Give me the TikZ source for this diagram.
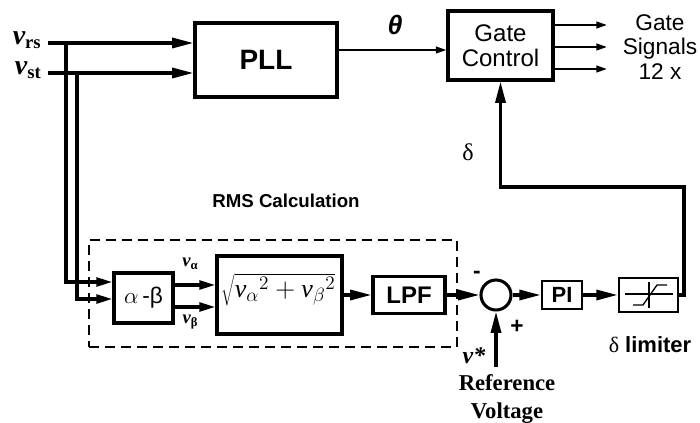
\documentclass[tikz,border=0pt]{standalone}
\usepackage{fontspec}
\setmainfont{Liberation Sans}
\newfontfamily\tms{Liberation Serif}
\newcommand\myv{\hbox{\tms\itshape v}}
\usetikzlibrary{arrows.meta,calc}
\begin{document}
\begin{tikzpicture}[x=0.75pt,y=-0.75pt,
 box/.style={draw,line width=2.3pt,inner sep=0pt,align=center},
 thk/.style={line width=2.4pt},
 bigarr/.style={thk,-{Triangle[length=16pt,width=7.5pt]}},
 medarr/.style={thk,-{Triangle[length=12pt,width=6.5pt]}},
 thinarr/.style={line width=1.5pt,-{Triangle[length=8pt,width=5pt]}},
 lbl/.style={inner sep=0pt},
 ]
\useasboundingbox (0,0) rectangle (700,423);

% blocks
\node[box,minimum width=106.5pt,minimum height=55.5pt,font=\fontsize{21}{24}\selectfont\bfseries] (pll) at (266,60) {PLL};
\node[box,minimum width=78.75pt,minimum height=51.75pt,font=\fontsize{18}{19}\selectfont] (gate) at (500.5,45.5) {Gate\\Control};
\node[draw,dashed,line width=1.5pt,dash pattern=on 7.5pt off 4.5pt,minimum width=276pt,minimum height=80.25pt,inner sep=0pt] (rms) at (273,293.5) {};
\node[box,minimum width=44.25pt,minimum height=37.5pt,font=\fontsize{17}{18}\selectfont] (ab) at (143.5,298) {$\alpha$\,-β};
\node[box,minimum width=93.75pt,minimum height=58.5pt] (sq) at (279.5,295) {};
\node[lbl,font=\fontsize{19.5}{20}\selectfont] (sqtxt) at (278.5,290) {$\sqrt{{\myv_{\alpha}}^{2}+{\myv_{\beta}}^{2}}$};
\node[box,minimum width=54pt,minimum height=27.75pt,font=\fontsize{18}{20}\selectfont\bfseries] (lpf) at (409,295) {LPF};
\node[circle,draw,line width=2.3pt,minimum size=22.5pt,inner sep=0pt] (sum) at (496,295) {};
\node[box,line width=2pt,minimum width=30pt,minimum height=21pt,font=\fontsize{16.5}{18}\selectfont\bfseries] (pi) at (562,295) {PI};
\node[box,line width=2pt,minimum width=44.25pt,minimum height=25.5pt] (lim) at (648.5,295) {};
% limiter symbol
\draw[line width=1pt] (625,294) -- (673,294);
\draw[line width=1pt] (649,282) -- (649,308);
\draw[line width=1pt] (633,305) -- (643,305) -- (657,285) -- (667,285);

% coordinates
\coordinate (rsin) at (48,43);
\coordinate (stin) at (48,73);
\coordinate (rsj) at (66,43);
\coordinate (stj) at (77,73);
\coordinate (abA) at (0,282);
\coordinate (abB) at (0,299);
\coordinate (va) at (0,285);
\coordinate (vb) at (0,307);
\coordinate (thy) at (0,50);
\coordinate (g1) at (607,25);
\coordinate (g2) at (607,47);
\coordinate (g3) at (607,69);
\coordinate (fbR) at (684,295);
\coordinate (fbT) at (684,187);
\coordinate (vref) at (496,367);

% connectors
\draw[bigarr] (rsin) -- (rsin -| pll.west);
\draw[bigarr] (stin) -- (stin -| pll.west);
\draw[medarr] (rsj) |- (ab.west |- abA);
\draw[medarr] (stj) |- (ab.west |- abB);
\draw[medarr] (ab.east |- va) -- (sq.west |- va);
\draw[medarr] (ab.east |- vb) -- (sq.west |- vb);
\draw[bigarr] (sq) -- (lpf);
\draw[bigarr] (lpf) -- (sum);
\draw[bigarr] (sum) -- (pi);
\draw[bigarr] (pi) -- (lim);
\draw[bigarr] (vref) -- (sum.south);
\draw[bigarr] (lim.east) -- (fbR) -- (fbT) -- (gate.south |- fbT) -- (gate.south);
\draw[thinarr] (pll.east |- thy) -- (gate.west |- thy);
\draw[thinarr] (gate.east |- g1) -- (g1);
\draw[thinarr] (gate.east |- g2) -- (g2);
\draw[thinarr] (gate.east |- g3) -- (g3);

% labels
\node[lbl,anchor=east,font=\tms\bfseries\itshape\fontsize{21}{22}\selectfont] (lrs) at (41,40) {v{\upshape\fontsize{14}{14}\selectfont\raisebox{-3pt}{rs}}};
\node[lbl,anchor=east,font=\tms\bfseries\itshape\fontsize{21}{22}\selectfont] (lst) at (41,70) {v{\upshape\fontsize{14}{14}\selectfont\raisebox{-3pt}{st}}};
\node[lbl,font=\bfseries\itshape\fontsize{20}{20}\selectfont] (lth) at (395,25) {θ};
\node[lbl,font=\fontsize{17}{18.4}\selectfont,align=center] (gs) at (660,47) {Gate\\Signals\\12 x};
\node[lbl,font=\tms\fontsize{18}{20}\selectfont] (ldelta) at (468,152) {δ};
\node[lbl,font=\bfseries\fontsize{14}{16}\selectfont] (lrms) at (286,201) {RMS Calculation};
\node[lbl,font=\tms\bfseries\itshape\fontsize{14}{15}\selectfont] (lva) at (190,264) {v{\upshape\fontsize{9.5}{9}\selectfont\raisebox{-2pt}{α}}};
\node[lbl,font=\tms\bfseries\itshape\fontsize{14}{15}\selectfont] (lvb) at (190,322) {v{\upshape\fontsize{9.5}{9}\selectfont\raisebox{-2pt}{β}}};
\node[lbl,font=\bfseries\fontsize{17}{18}\selectfont] (lminus) at (477,275) {-};
\node[lbl,font=\bfseries\fontsize{17}{18}\selectfont] (lplus) at (517,327) {+};
\node[lbl,font=\tms\bfseries\itshape\fontsize{18}{20}\selectfont] (lvs) at (474,356) {v*};
\node[lbl,font=\tms\bfseries\fontsize{17}{21}\selectfont,align=center] (lref) at (507,399) {Reference\\Voltage};
\node[lbl,font=\bfseries\fontsize{16.5}{18}\selectfont] (llim) at (650,345) {{\tms\mdseries δ} limiter};
\end{tikzpicture}
\end{document}
